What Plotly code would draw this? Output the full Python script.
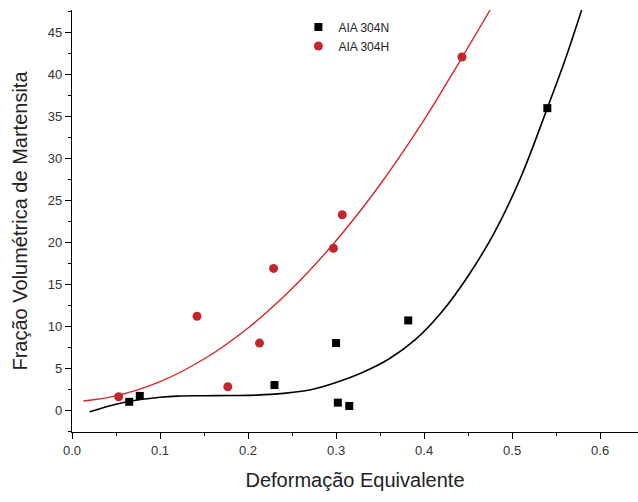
import plotly.graph_objects as go

# Data points
n_x = [0.065, 0.077, 0.230, 0.300, 0.302, 0.315, 0.382, 0.540]
n_y = [1.0, 1.7, 3.0, 8.0, 0.9, 0.5, 10.7, 36.0]

h_x = [0.053, 0.142, 0.177, 0.213, 0.229, 0.297, 0.307, 0.443]
h_y = [1.6, 11.2, 2.8, 8.0, 16.9, 19.3, 23.3, 42.1]

# Fitted curves
n_fit_x = [0.02, 0.04, 0.06, 0.08, 0.10, 0.12, 0.15, 0.18, 0.21, 0.24, 0.27, 0.30,
           0.33, 0.36, 0.39, 0.42, 0.45, 0.48, 0.51, 0.54, 0.56, 0.579]
n_fit_y = [-0.2, 0.45, 0.95, 1.3, 1.55, 1.68, 1.72, 1.75, 1.8, 2.0, 2.4, 3.3,
           4.5, 6.1, 8.4, 11.7, 16.0, 21.2, 27.8, 36.0, 41.7, 47.7]

h_fit_x = [0.013, 0.05, 0.10, 0.15, 0.20, 0.25, 0.30, 0.35, 0.40, 0.44, 0.475]
h_fit_y = [1.1, 1.7, 3.4, 6.1, 9.8, 14.5, 20.2, 26.9, 34.6, 41.5, 47.7]

x_ticks = [0.0, 0.1, 0.2, 0.3, 0.4, 0.5, 0.6]
y_ticks = [0, 5, 10, 15, 20, 25, 30, 35, 40, 45]

RED = "#c4262e"
FONT = "Liberation Sans, Arial, sans-serif"

fig = go.Figure()
fig.add_trace(go.Scatter(x=n_fit_x, y=n_fit_y, mode="lines", line=dict(color="black", width=1.6, shape="spline"),
                         showlegend=False, hoverinfo="skip"))
fig.add_trace(go.Scatter(x=h_fit_x, y=h_fit_y, mode="lines", line=dict(color="#d8262a", width=1.4, shape="spline"),
                         showlegend=False, hoverinfo="skip"))
fig.add_trace(go.Scatter(x=n_x, y=n_y, mode="markers", name="AIA 304N",
                         marker=dict(symbol="square", size=8, color="black")))
fig.add_trace(go.Scatter(x=h_x, y=h_y, mode="markers", name="AIA 304H",
                         marker=dict(symbol="circle", size=9, color=RED)))

axis_common = dict(showgrid=False, zeroline=False, showline=True, linecolor="black", linewidth=1.3,
                   ticks="outside", ticklen=6, tickwidth=1.2, tickcolor="black",
                   tickfont=dict(family=FONT, size=13, color="#333"), mirror=False)

fig.update_xaxes(range=[0, 0.643], tickvals=x_ticks, ticktext=[f"{v:.1f}" for v in x_ticks],
                 minor=dict(dtick=0.05, ticks="outside", ticklen=3, tickcolor="black", tickwidth=1),
                 title=dict(text="Deformação Equivalente", font=dict(family=FONT, size=20, color="#222"), standoff=16),
                 **axis_common)
fig.update_yaxes(range=[-2.6, 47.7], tickvals=y_ticks,
                 minor=dict(dtick=2.5, tick0=0, ticks="outside", ticklen=3, tickcolor="black", tickwidth=1),
                 title=dict(text="Fração Volumétrica de Martensita", font=dict(family=FONT, size=20, color="#222"), standoff=14),
                 **axis_common)

fig.update_layout(
    width=638, height=502,
    margin=dict(l=72, r=0, t=10, b=70, autoexpand=False),
    paper_bgcolor="white", plot_bgcolor="white",
    showlegend=True,
    legend=dict(x=0.40, y=0.994, xanchor="left", yanchor="top", bgcolor="rgba(0,0,0,0)",
                font=dict(family=FONT, size=12, color="#222"), itemwidth=30, tracegroupgap=0),
)

fig.write_html("out.html")
